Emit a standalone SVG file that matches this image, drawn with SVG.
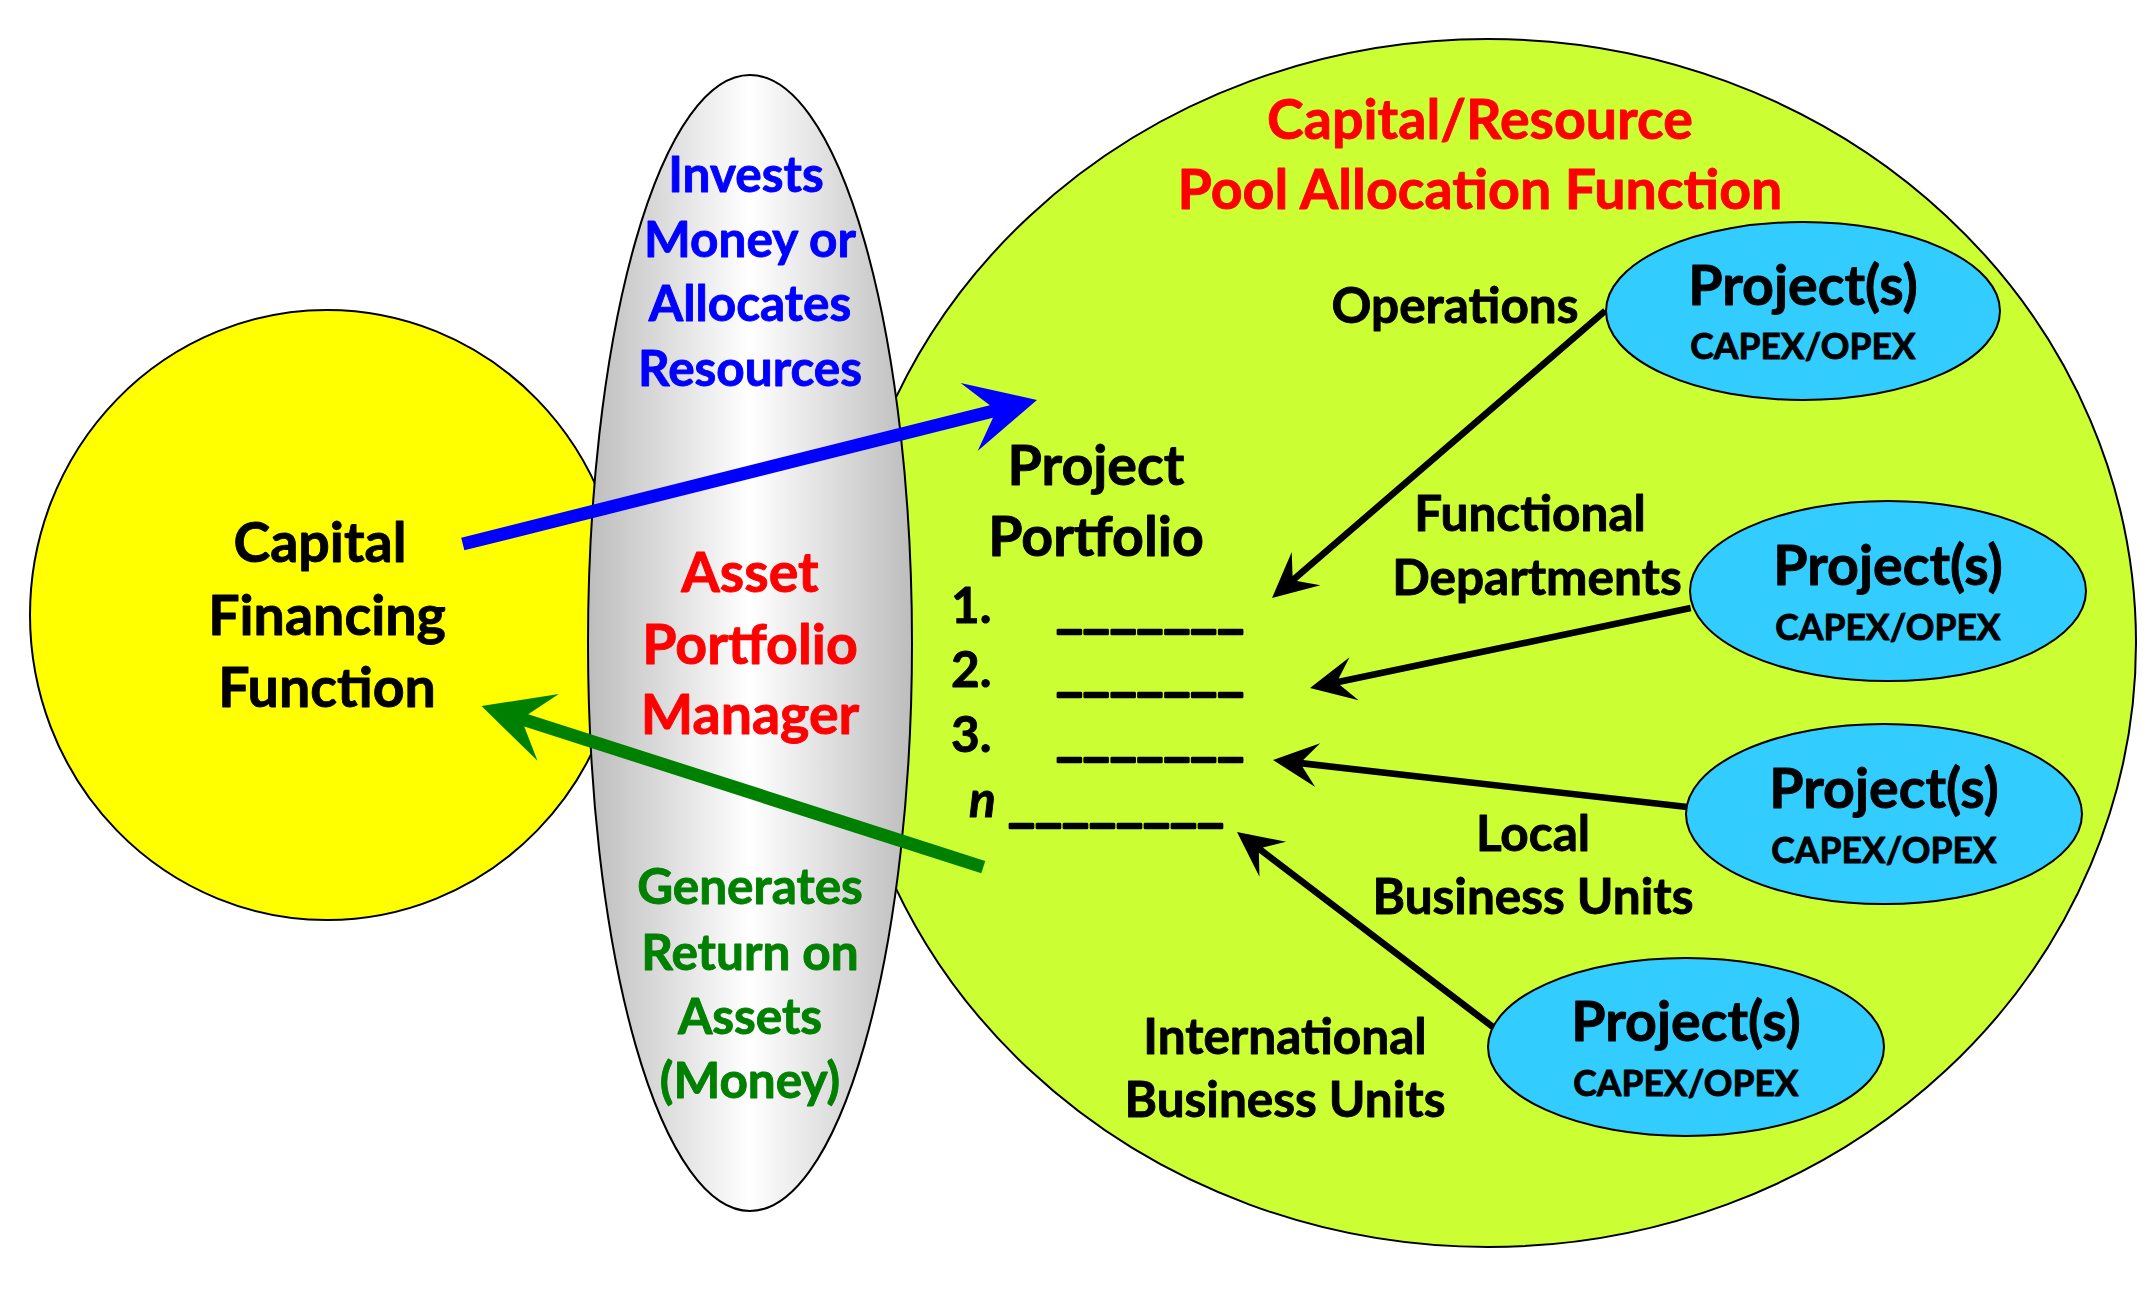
<svg xmlns="http://www.w3.org/2000/svg" width="2153" height="1301" viewBox="0 0 2153 1301">
<style>
.t{font-family:Lato,"Open Sans","Liberation Sans",sans-serif;font-weight:700;text-anchor:middle;stroke-width:0.9;stroke-linejoin:round}
.big{font-size:55.5px}
.mid{font-size:49.5px}
.sm{font-size:35.5px}
.red{fill:#ff0000;stroke:#ff0000}
.blu{fill:#0000ff;stroke:#0000ff}
.grn{fill:#008000;stroke:#008000}
.blk{fill:#000000;stroke:#000000}
.ul{text-anchor:start;stroke-width:2.5}
.proj{fill:#33ccff;stroke:#000;stroke-width:2}
</style>
<defs>
<linearGradient id="gray" x1="0" y1="0" x2="1" y2="0">
<stop offset="0" stop-color="#bdbdbd"/>
<stop offset="0.5" stop-color="#ffffff"/>
<stop offset="1" stop-color="#bdbdbd"/>
</linearGradient>
</defs>
<rect width="2153" height="1301" fill="#ffffff"/>

<g id="capital-financing">
<ellipse cx="327" cy="615" rx="297" ry="305" fill="#ffff00" stroke="#000" stroke-width="2"/>
<text class="t big blk" x="320" y="562">Capital</text>
<text class="t big blk" x="327" y="635">Financing</text>
<text class="t big blk" x="327" y="707">Function</text>
</g>

<g id="pool-allocation">
<ellipse cx="1488" cy="643" rx="648" ry="604" fill="#ccff33" stroke="#000" stroke-width="2"/>
<text class="t big red" x="1480" y="139">Capital/Resource</text>
<text class="t big red" x="1480" y="209">Pool Allocation Function</text>
<text class="t mid blk" x="1455" y="323">Operations</text>
<text class="t mid blk" x="1530" y="531">Functional</text>
<text class="t mid blk" x="1537" y="595">Departments</text>
<text class="t mid blk" x="1533" y="851">Local</text>
<text class="t mid blk" x="1533" y="914">Business Units</text>
<text class="t mid blk" x="1285" y="1054">International</text>
<text class="t mid blk" x="1285" y="1117">Business Units</text>
</g>

<g id="asset-portfolio-manager">
<ellipse cx="750" cy="643" rx="162" ry="568" fill="url(#gray)" stroke="#000" stroke-width="2"/>
<text class="t mid blu" x="746" y="192">Invests</text>
<text class="t mid blu" x="750" y="257">Money or</text>
<text class="t mid blu" x="750" y="321">Allocates</text>
<text class="t mid blu" x="750" y="386">Resources</text>
<text class="t big red" x="750" y="592">Asset</text>
<text class="t big red" x="750" y="664">Portfolio</text>
<text class="t big red" x="750" y="734">Manager</text>
<text class="t mid grn" x="750" y="904">Generates</text>
<text class="t mid grn" x="750" y="970">Return on</text>
<text class="t mid grn" x="750" y="1034">Assets</text>
<text class="t mid grn" x="750" y="1098">(Money)</text>
</g>

<g id="project-portfolio">
<text class="t big blk" x="1096" y="485">Project</text>
<text class="t big blk" x="1096" y="556">Portfolio</text>
<text class="t mid blk" x="951" y="623" style="text-anchor:start">1.</text>
<text class="t mid blk ul" x="1056" y="627" textLength="188" lengthAdjust="spacingAndGlyphs">_______</text>
<text class="t mid blk" x="951" y="687" style="text-anchor:start">2.</text>
<text class="t mid blk ul" x="1056" y="690" textLength="188" lengthAdjust="spacingAndGlyphs">_______</text>
<text class="t mid blk" x="951" y="752" style="text-anchor:start">3.</text>
<text class="t mid blk ul" x="1056" y="755" textLength="188" lengthAdjust="spacingAndGlyphs">_______</text>
<text class="t mid blk" x="969" y="817" style="text-anchor:start;font-style:italic">n</text>
<text class="t mid blk ul" x="1008" y="821" textLength="216" lengthAdjust="spacingAndGlyphs">________</text>
</g>

<g id="project-operations">
<ellipse class="proj" cx="1803" cy="311" rx="197" ry="89"/>
<text class="t big blk" x="1803" y="305">Project(s)</text>
<text class="t sm blk" x="1803" y="359">CAPEX/OPEX</text>
</g>
<g id="project-functional">
<ellipse class="proj" cx="1888" cy="591" rx="198" ry="90"/>
<text class="t big blk" x="1888" y="585">Project(s)</text>
<text class="t sm blk" x="1888" y="640">CAPEX/OPEX</text>
</g>
<g id="project-local">
<ellipse class="proj" cx="1884" cy="814" rx="198" ry="90"/>
<text class="t big blk" x="1884" y="808">Project(s)</text>
<text class="t sm blk" x="1884" y="863">CAPEX/OPEX</text>
</g>
<g id="project-international">
<ellipse class="proj" cx="1686" cy="1047" rx="198" ry="89"/>
<text class="t big blk" x="1686" y="1041">Project(s)</text>
<text class="t sm blk" x="1686" y="1096">CAPEX/OPEX</text>
</g>

<g id="connectors">
<path transform="translate(1037,400) rotate(-14.08)" fill="#0000ff" d="M0,0 L-70,-35 L-47,-6.5 L-592,-6.5 L-592,6.5 L-47,6.5 L-70,35 Z"/>
<path transform="translate(481.5,706) rotate(-162.2)" fill="#008000" d="M0,0 L-70,-35 L-47,-6.5 L-527,-6.5 L-527,6.5 L-47,6.5 L-70,35 Z"/>
<path transform="translate(1272,598) rotate(139.24)" fill="#000" d="M0,0 L-45,-22 L-30,-3.3 L-440,-3.3 L-440,3.3 L-30,3.3 L-45,22 Z"/>
<path transform="translate(1310,688) rotate(168.14)" fill="#000" d="M0,0 L-45,-22 L-30,-3.3 L-389,-3.3 L-389,3.3 L-30,3.3 L-45,22 Z"/>
<path transform="translate(1273,760) rotate(-173.52)" fill="#000" d="M0,0 L-45,-22 L-30,-3.3 L-417,-3.3 L-417,3.3 L-30,3.3 L-45,22 Z"/>
<path transform="translate(1237,832) rotate(-142.7)" fill="#000" d="M0,0 L-45,-22 L-30,-3.3 L-322,-3.3 L-322,3.3 L-30,3.3 L-45,22 Z"/>
</g>
</svg>
